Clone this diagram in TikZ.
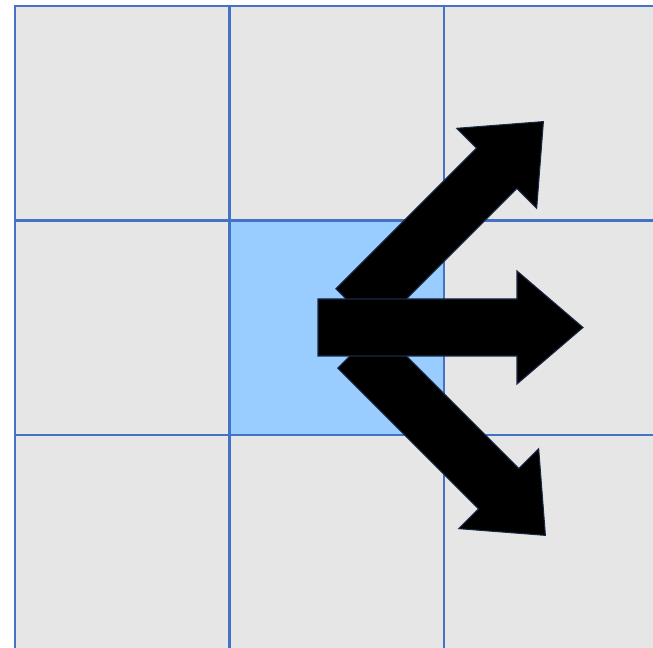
\documentclass[tikz,border=0pt]{standalone}
\usepackage{tikz}
\definecolor{gridblue}{HTML}{4472C4}
\definecolor{cellgray}{HTML}{E6E6E6}
\definecolor{cellblue}{HTML}{99CCFF}

\begin{document}
\begin{tikzpicture}[
    cell/.style={draw=gridblue, line width=0.6pt, minimum size=2.145cm, inner sep=0pt, outer sep=0pt},
    bigarrow/.style={fill=black, draw=gridblue!35!black, line width=0.3pt, line join=miter}
]
    \useasboundingbox (0,0) rectangle (6.53,6.48);
    \clip (0,0) rectangle (6.53,6.48);

    % Cells
    \foreach \r/\c/\col in {0/0/cellgray, 0/1/cellgray, 0/2/cellgray,
                            1/0/cellgray, 1/1/cellblue, 1/2/cellgray,
                            2/0/cellgray, 2/1/cellgray, 2/2/cellgray}
        \node[cell, fill=\col] (cell\r\c) at ({0.15+1.0725+2.145*\c}, {6.42-1.0725-2.145*\r}) {};

    % Arrows (diagonals first, straight one on top)
    \foreach \x/\y/\a in {3.56/3.39/45, 3.58/3.00/-45, 3.18/3.205/0}
        \draw[bigarrow, shift={(\x,\y)}, rotate=\a]
            (0,-0.285) -- (1.99,-0.285) -- (1.99,-0.565) -- (2.65,0)
            -- (1.99,0.565) -- (1.99,0.285) -- (0,0.285) -- cycle;
\end{tikzpicture}
\end{document}
